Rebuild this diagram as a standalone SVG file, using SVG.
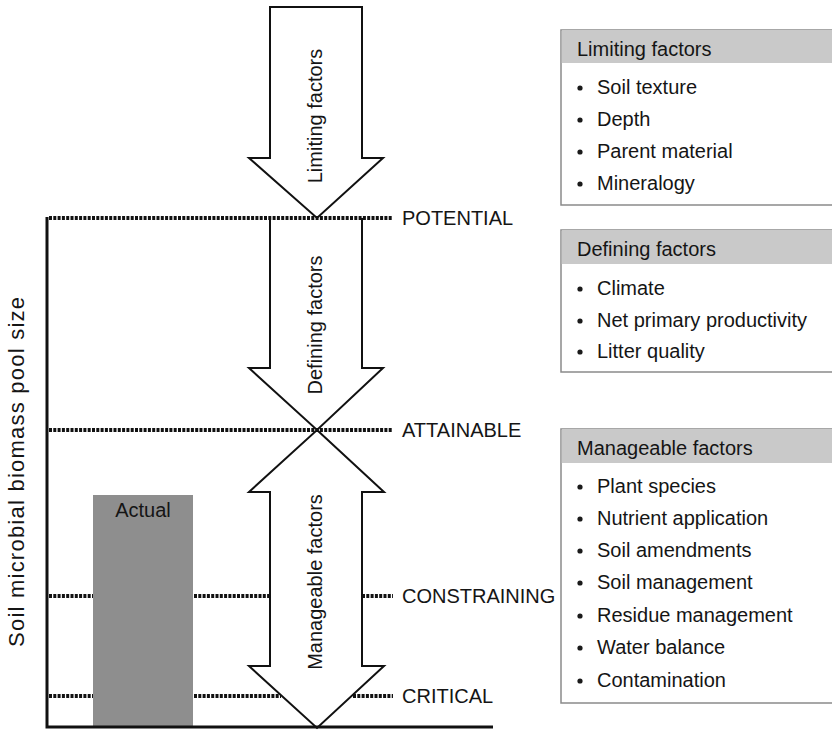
<svg xmlns="http://www.w3.org/2000/svg" width="832" height="730" viewBox="0 0 832 730">
<style>
text{font-family:"Liberation Sans",Arial,sans-serif;font-size:20px;fill:#151515}
.arrow{fill:#fff;stroke:#111;stroke-width:2;stroke-linejoin:miter}
.dot{stroke:#111;stroke-width:4;stroke-dasharray:3 1.3;fill:none}
.axis{stroke:#111;stroke-width:3;fill:none}
.box{fill:#fff;stroke:#8a8a8a;stroke-width:1.5}
.hdr{fill:#c9c9c9}
.bul{fill:#1a1a1a}
</style>
<rect width="832" height="730" fill="#fff"/>
<g id="actual">
<rect x="93" y="495" width="100" height="232" fill="#8e8e8e"/>
<text x="143" y="517" text-anchor="middle">Actual</text>
</g>
<g id="connectors">
<path class="arrow" d="M270,7 H362 V158 H383 L317,218 L249,158 H270 Z"/>
<path class="arrow" d="M270,218 V368 H249 L317,430 L383,368 H362 V218"/>
<path class="arrow" d="M317,430 L384,492 H362 V666 H384 L317,728 L249,666 H270 V492 H249 Z"/>
<line class="dot" x1="49" y1="218" x2="393" y2="218"/>
<line class="dot" x1="49" y1="430" x2="393" y2="430"/>
<line class="dot" x1="49" y1="596" x2="93" y2="596"/>
<line class="dot" x1="194" y1="596" x2="270" y2="596"/>
<line class="dot" x1="362" y1="596" x2="393" y2="596"/>
<line class="dot" x1="49" y1="696" x2="93" y2="696"/>
<line class="dot" x1="194" y1="696" x2="281" y2="696"/>
<line class="dot" x1="353" y1="696" x2="393" y2="696"/>
<polyline class="axis" points="47,217 47,727 493,727"/>
</g>
<g id="arrow-labels">
<text transform="translate(322,116) rotate(-90)" text-anchor="middle">Limiting factors</text>
<text transform="translate(322,325) rotate(-90)" text-anchor="middle">Defining factors</text>
<text transform="translate(322,582) rotate(-90)" text-anchor="middle">Manageable factors</text>
</g>
<g id="y-label">
<text transform="translate(24,472) rotate(-90)" text-anchor="middle" style="font-size:22px" textLength="350" lengthAdjust="spacing">Soil microbial biomass pool size</text>
</g>
<g id="level-labels">
<text x="402" y="225">POTENTIAL</text>
<text x="402" y="437">ATTAINABLE</text>
<text x="402" y="603">CONSTRAINING</text>
<text x="402" y="703">CRITICAL</text>
</g>
<g id="box-limiting">
<rect class="box" x="561" y="30" width="290" height="175"/>
<rect class="hdr" x="561.75" y="30" width="290" height="33"/>
<text x="577" y="56">Limiting factors</text>
<circle class="bul" cx="580" cy="88" r="2.6"/><text x="597" y="94">Soil texture</text>
<circle class="bul" cx="580" cy="120" r="2.6"/><text x="597" y="126">Depth</text>
<circle class="bul" cx="580" cy="152" r="2.6"/><text x="597" y="158">Parent material</text>
<circle class="bul" cx="580" cy="184" r="2.6"/><text x="597" y="190">Mineralogy</text>
</g>
<g id="box-defining">
<rect class="box" x="561" y="230" width="290" height="142"/>
<rect class="hdr" x="561.75" y="230" width="290" height="34"/>
<text x="577" y="256">Defining factors</text>
<circle class="bul" cx="580" cy="289" r="2.6"/><text x="597" y="295">Climate</text>
<circle class="bul" cx="580" cy="321" r="2.6"/><text x="597" y="327">Net primary productivity</text>
<circle class="bul" cx="580" cy="352" r="2.6"/><text x="597" y="358">Litter quality</text>
</g>
<g id="box-manageable">
<rect class="box" x="561" y="429" width="290" height="274"/>
<rect class="hdr" x="561.75" y="429" width="290" height="34"/>
<text x="577" y="455">Manageable factors</text>
<circle class="bul" cx="580" cy="487" r="2.6"/><text x="597" y="493">Plant species</text>
<circle class="bul" cx="580" cy="519" r="2.6"/><text x="597" y="525">Nutrient application</text>
<circle class="bul" cx="580" cy="551" r="2.6"/><text x="597" y="557">Soil amendments</text>
<circle class="bul" cx="580" cy="583" r="2.6"/><text x="597" y="589">Soil management</text>
<circle class="bul" cx="580" cy="616" r="2.6"/><text x="597" y="622">Residue management</text>
<circle class="bul" cx="580" cy="648" r="2.6"/><text x="597" y="654">Water balance</text>
<circle class="bul" cx="580" cy="681" r="2.6"/><text x="597" y="687">Contamination</text>
</g>
</svg>
